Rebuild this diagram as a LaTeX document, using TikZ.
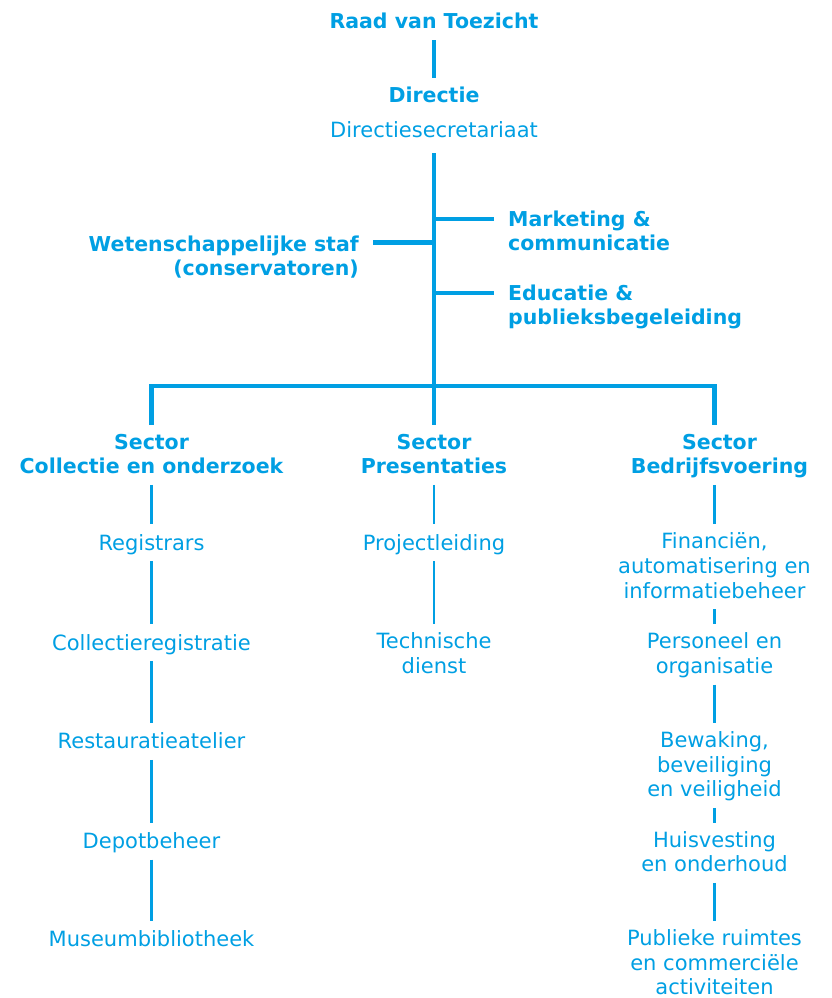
\documentclass[tikz,border=0pt]{standalone}
\usepackage{fontspec}
\setmainfont{DejaVu Sans}
\definecolor{museumblue}{RGB}{0,159,227}

\begin{document}
\begin{tikzpicture}[x=1pt,y=-1pt,
  unit/.style={text=museumblue, inner sep=0pt, align=center, font=\fontsize{21}{24.7}\selectfont, execute at begin node=\strut, execute at end node=\strut},
  head/.style={unit, font=\bfseries\fontsize{20.5}{24.7}\selectfont},
  thickline/.style={draw=museumblue, line width=4.3pt},
  thinline/.style={draw=museumblue, line width=2.8pt, shorten <=3.5pt, shorten >=8.5pt}]
  \useasboundingbox (0,0) rectangle (832,998);

  \node[head, anchor=north] (raad) at (434,10.7) {Raad van Toezicht};
  \node[head, anchor=north] (dir) at (434,84.7) {Directie};
  \node[unit, anchor=north] (dirsec) at (434,119.7) {Directiesecretariaat};
  \node[head, anchor=north east, align=right] (wet) at (359,235.4) {Wetenschappelijke staf\\(conservatoren)};
  \node[head, anchor=north west, align=left] (mark) at (508,210.4) {Marketing \&\\communicatie};
  \node[head, anchor=north west, align=left] (edu) at (508,284.4) {Educatie \&\\publieksbegeleiding};

  \node[head, anchor=north] (sc) at (151.5,433.7) {Sector\\Collectie en onderzoek};
  \node[head, anchor=north] (sp) at (434,433.7) {Sector\\Presentaties};
  \node[head, anchor=north] (sb) at (719.5,433.7) {Sector\\Bedrijfsvoering};

  \node[unit, anchor=north] (reg) at (151.5,532.7) {Registrars};
  \node[unit, anchor=north] (colreg) at (151.5,632.7) {Collectieregistratie};
  \node[unit, anchor=north] (rest) at (151.5,731.2) {Restauratieatelier};
  \node[unit, anchor=north] (depot) at (151.5,831) {Depotbeheer};
  \node[unit, anchor=north] (mus) at (151.5,929.2) {Museumbibliotheek};

  \node[unit, anchor=north] (proj) at (434,532.7) {Projectleiding};
  \node[unit, anchor=north] (tech) at (434,632.7) {Technische\\dienst};

  \node[unit, anchor=north] (fin) at (714.5,532.7) {Financiën,\\automatisering en\\informatiebeheer};
  \node[unit, anchor=north] (pers) at (714.5,632.7) {Personeel en\\organisatie};
  \node[unit, anchor=north] (bew) at (714.5,731.2) {Bewaking,\\beveiliging\\en veiligheid};
  \node[unit, anchor=north] (huis) at (714.5,831) {Huisvesting\\en onderhoud};
  \node[unit, anchor=north] (pub) at (714.5,929.2) {Publieke ruimtes\\en commerciële\\activiteiten};

  \coordinate (jmark) at (434,219);
  \coordinate (jwet) at (434,242.5);
  \coordinate (jedu) at (434,293);
  \coordinate (bar) at (434,386);

  \draw[thickline, shorten <=4.5pt, shorten >=6.7pt] (raad.south) -- (dir.north);
  \draw[thickline, shorten <=8.6pt, shorten >=8.7pt] (dirsec.south) -- (sp.north);
  \draw[thickline, shorten >=14pt] (jmark) -- (jmark -| mark.west);
  \draw[thickline, shorten >=14pt] (jedu) -- (jedu -| edu.west);
  \draw[thickline, shorten >=14pt] (jwet) -- (jwet -| wet.east);
  \draw[thickline, shorten <=8.7pt, shorten >=8.7pt] (sc.north) |- (bar) -| ([xshift=-5pt]sb.north);

  \draw[thinline] (sc.south) -- (reg.north);
  \draw[thinline] (reg.south) -- (colreg.north);
  \draw[thinline] (colreg.south) -- (rest.north);
  \draw[thinline] (rest.south) -- (depot.north);
  \draw[thinline] (depot.south) -- (mus.north);

  \draw[thinline] (sp.south) -- (proj.north);
  \draw[thinline] (proj.south) -- (tech.north);

  \draw[thinline] (sb.south -| fin.north) -- (fin.north);
  \draw[thinline] (fin.south) -- (pers.north);
  \draw[thinline] (pers.south) -- (bew.north);
  \draw[thinline] (bew.south) -- (huis.north);
  \draw[thinline] (huis.south) -- (pub.north);
\end{tikzpicture}
\end{document}
